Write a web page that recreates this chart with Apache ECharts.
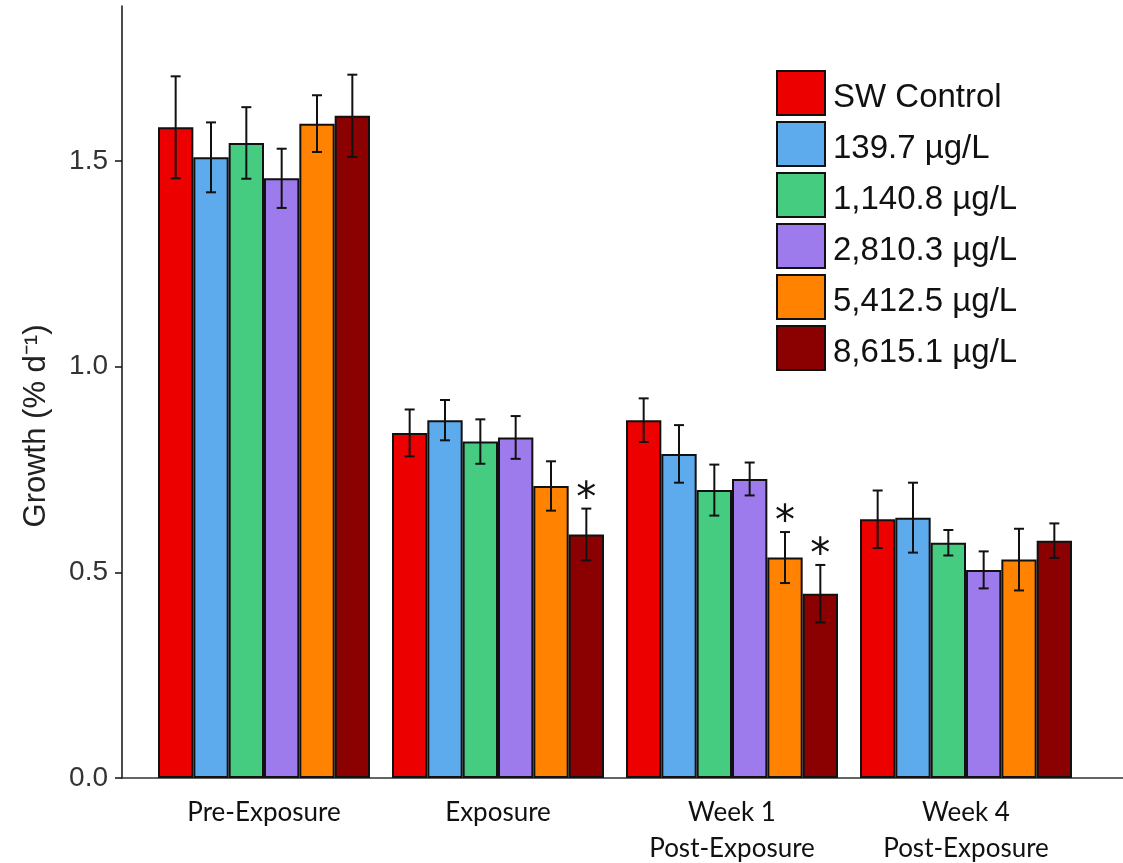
<!DOCTYPE html>
<html>
<head>
<meta charset="utf-8">
<title>Growth by exposure phase</title>
<script src="https://cdn.jsdelivr.net/npm/echarts@6/dist/echarts.min.js"></script>
<style>
  html, body { margin: 0; padding: 0; background: #ffffff; }
  #chart { width: 1123px; height: 863px; }
</style>
</head>
<body>
<div id="chart"></div>
<script>
// Sampling phases along the x axis
const categories = ['Pre-Exposure', 'Exposure', 'Week 1\nPost-Exposure', 'Week 4\nPost-Exposure'];

// Treatment groups
const treatments = ['SW Control', '139.7 µg/L', '1,140.8 µg/L', '2,810.3 µg/L', '5,412.5 µg/L', '8,615.1 µg/L'];
const colors = ['#EC0000', '#5DAAEC', '#45CC80', '#9E7BEC', '#FF8300', '#8B0000'];

// Mean growth (% per day), one array per treatment, in phase order
const swControl = [1.582, 0.839, 0.870, 0.629];
const conc139 = [1.509, 0.870, 0.788, 0.633];
const conc1140 = [1.544, 0.818, 0.700, 0.572];
const conc2810 = [1.458, 0.828, 0.727, 0.506];
const conc5412 = [1.591, 0.710, 0.536, 0.531];
const conc8615 = [1.610, 0.592, 0.448, 0.577];

// Standard error for each mean
const swControlErr = [0.124, 0.057, 0.053, 0.070];
const conc139Err = [0.085, 0.049, 0.070, 0.085];
const conc1140Err = [0.087, 0.054, 0.062, 0.031];
const conc2810Err = [0.072, 0.052, 0.040, 0.045];
const conc5412Err = [0.069, 0.060, 0.062, 0.075];
const conc8615Err = [0.100, 0.063, 0.070, 0.042];

// Significant difference from control (1 = marked with an asterisk)
const swControlSig = [0, 0, 0, 0];
const conc139Sig = [0, 0, 0, 0];
const conc1140Sig = [0, 0, 0, 0];
const conc2810Sig = [0, 0, 0, 0];
const conc5412Sig = [0, 0, 1, 0];
const conc8615Sig = [0, 1, 1, 0];

// Y axis ticks
const yTicks = [0, 0.5, 1.0, 1.5];
const yMax = 1.877;

const means = [swControl, conc139, conc1140, conc2810, conc5412, conc8615];
const errors = [swControlErr, conc139Err, conc1140Err, conc2810Err, conc5412Err, conc8615Err];
const sigs = [swControlSig, conc139Sig, conc1140Sig, conc2810Sig, conc5412Sig, conc8615Sig];

const CAT_GAP = 0.094;
const N = treatments.length;

function errorBarRenderer(k) {
  return function (params, api) {
    const i = api.value(0);
    const m = api.value(1);
    const e = api.value(2);
    const s = api.value(3);
    const band = api.size([1, 0])[0];
    const groupW = band * (1 - CAT_GAP);
    const bw = groupW / N;
    const center = api.coord([i, m]);
    const cx = center[0] - groupW / 2 + bw * (k + 0.5);
    const top = api.coord([i, m + e])[1];
    const bot = api.coord([i, m - e])[1];
    const cap = 5;
    const style = { stroke: '#111', lineWidth: 2 };
    const children = [
      { type: 'line', shape: { x1: cx, y1: top, x2: cx, y2: bot }, style: style },
      { type: 'line', shape: { x1: cx - cap, y1: top, x2: cx + cap, y2: top }, style: style },
      { type: 'line', shape: { x1: cx - cap, y1: bot, x2: cx + cap, y2: bot }, style: style }
    ];
    if (s) {
      children.push({
        type: 'text',
        style: {
          x: cx, y: top - 8, text: '*',
          fill: '#111', fontSize: 40, fontFamily: 'DejaVu Sans',
          align: 'center', verticalAlign: 'middle'
        }
      });
    }
    return { type: 'group', children: children };
  };
}

const barSeries = treatments.map((name, k) => ({
  name: name,
  type: 'bar',
  xAxisIndex: 0,
  yAxisIndex: 0,
  data: means[k],
  barGap: '0%',
  barCategoryGap: (CAT_GAP * 100) + '%',
  itemStyle: { color: colors[k], borderColor: '#111', borderWidth: 2 },
  emphasis: { disabled: true },
  z: 2
}));

const errSeries = treatments.map((name, k) => ({
  type: 'custom',
  xAxisIndex: 0,
  yAxisIndex: 0,
  renderItem: errorBarRenderer(k),
  data: categories.map((c, i) => [i, means[k][i], errors[k][i], sigs[k][i]]),
  z: 5,
  silent: true
}));

const chart = echarts.init(document.getElementById('chart'));
chart.setOption({
  animation: false,
  backgroundColor: '#ffffff',
  grid: [
    { left: 147, right: 40, top: 6, bottom: 85, outerBoundsMode: 'none', containLabel: false },
    { left: 122, right: 0, top: 6, bottom: 85, outerBoundsMode: 'none', containLabel: false }
  ],
  legend: {
    orient: 'vertical',
    left: 776,
    top: 70,
    padding: 0,
    itemWidth: 48,
    itemHeight: 44,
    itemGap: 5,
    icon: 'rect',
    data: treatments,
    itemStyle: { borderColor: '#111', borderWidth: 2 },
    formatter: name => '{t|' + name + '}',
    textStyle: {
      fontSize: 33, fontFamily: 'Liberation Sans', color: '#111',
      rich: {
        t: { fontSize: 33, fontFamily: 'Liberation Sans', color: '#111', padding: [10, 0, 0, 3] }
      }
    },
    selectedMode: false
  },
  xAxis: [
    {
      type: 'category',
      gridIndex: 0,
      data: categories,
      axisLine: { show: false },
      axisTick: { show: false },
      axisLabel: {
        fontSize: 26, fontFamily: 'Lato', color: '#111',
        lineHeight: 36, margin: 17, interval: 0
      }
    },
    {
      type: 'value',
      gridIndex: 1,
      min: 0, max: 1,
      axisLine: { show: true, lineStyle: { color: '#333', width: 1.5 } },
      axisTick: { show: false },
      axisLabel: { show: false },
      splitLine: { show: false }
    }
  ],
  yAxis: [
    {
      type: 'value',
      gridIndex: 0,
      min: 0,
      max: yMax,
      interval: 0.5,
      offset: 25,
      name: 'Growth (% d⁻¹)',
      nameLocation: 'middle',
      nameRotate: 90,
      nameGap: 70,
      nameTextStyle: {
        fontSize: 31, fontFamily: 'Liberation Sans', color: '#222',
        padding: [0, 68, 0, 0]
      },
      axisLine: { show: true, lineStyle: { color: '#111', width: 1.5 } },
      axisTick: { show: true, length: 7, customValues: yTicks, lineStyle: { color: '#111', width: 1.5 } },
      axisLabel: {
        customValues: yTicks,
        margin: 14,
        fontSize: 28, fontFamily: 'Liberation Sans', color: '#333',
        formatter: v => v.toFixed(1)
      },
      splitLine: { show: false }
    },
    {
      type: 'value',
      gridIndex: 1,
      min: 0, max: 1,
      show: false
    }
  ],
  series: barSeries.concat(errSeries)
});
</script>
</body>
</html>
